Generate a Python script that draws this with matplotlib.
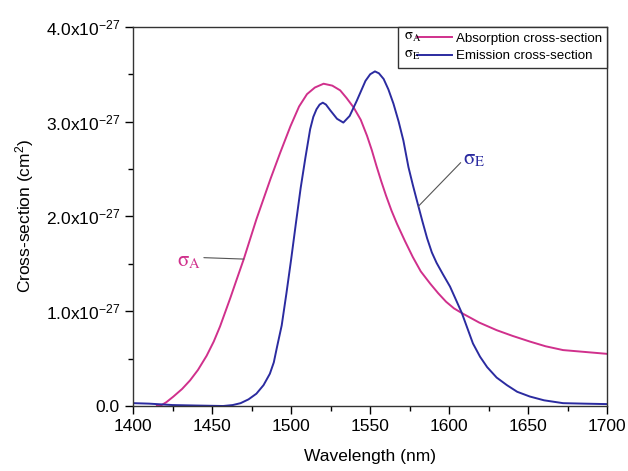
import numpy as np
import matplotlib
matplotlib.use("Agg")
import matplotlib.pyplot as plt
from matplotlib.ticker import MultipleLocator, FuncFormatter
from matplotlib.legend_handler import HandlerLine2D
from matplotlib.text import Text

# absorption cross-section, values in units of 1e-27 cm^2
abs_wl = [1415, 1417, 1421, 1425.5, 1431, 1436, 1441, 1446.5, 1451, 1455,
          1461.5, 1465, 1470, 1478, 1487, 1493, 1499.5, 1505, 1510, 1515,
          1520.5, 1526, 1531, 1535, 1539.5, 1544, 1548, 1551, 1554, 1557,
          1560, 1563.5, 1567, 1572, 1577, 1582, 1588, 1593, 1598, 1603,
          1608, 1619, 1630, 1640, 1651, 1661, 1672, 1686, 1700]
abs_val = [0.0, 0.0, 0.04, 0.10, 0.18, 0.27, 0.38, 0.53, 0.68, 0.84,
           1.14, 1.31, 1.55, 1.97, 2.40, 2.67, 2.95, 3.16, 3.29, 3.36,
           3.40, 3.38, 3.33, 3.25, 3.15, 3.02, 2.85, 2.70, 2.53, 2.37,
           2.22, 2.06, 1.92, 1.74, 1.57, 1.42, 1.29, 1.19, 1.10, 1.03,
           0.98, 0.88, 0.80, 0.74, 0.68, 0.63, 0.59, 0.57, 0.55]

# emission cross-section
emi_wl = [1400, 1410, 1425, 1440, 1457, 1463, 1468, 1473, 1478, 1482.5,
          1486.5, 1489, 1491, 1494, 1497, 1500, 1503, 1506, 1509, 1512,
          1514, 1516, 1518, 1520, 1522, 1524.7, 1529, 1533, 1537, 1541.5,
          1547, 1550, 1553, 1555.5, 1558.5, 1561.5, 1564.7, 1568, 1571,
          1574.2, 1577, 1579.5, 1583, 1586, 1589, 1592, 1596, 1600.5, 1604,
          1608, 1611.5, 1615, 1619.5, 1624, 1630, 1636.5, 1643, 1651, 1660,
          1672, 1685, 1700]
emi_val = [0.03, 0.025, 0.01, 0.005, 0.0, 0.01, 0.03, 0.07, 0.13, 0.22,
           0.34, 0.46, 0.62, 0.85, 1.19, 1.55, 1.93, 2.30, 2.62, 2.92,
           3.05, 3.13, 3.18, 3.20, 3.18, 3.12, 3.03, 2.99, 3.06, 3.22,
           3.43, 3.50, 3.53, 3.51, 3.45, 3.34, 3.19, 3.00, 2.80,
           2.52, 2.33, 2.17, 1.95, 1.77, 1.62, 1.51, 1.39, 1.26, 1.13,
           0.98, 0.82, 0.66, 0.52, 0.41, 0.30, 0.22, 0.15, 0.10, 0.06,
           0.03, 0.025, 0.02]

x_ticks = [1400, 1450, 1500, 1550, 1600, 1650, 1700]
y_ticks = [0.0, 1.0, 2.0, 3.0, 4.0]

MAGENTA = "#d0308c"
BLUE = "#2b2ba0"

plt.rcParams["font.family"] = ["Liberation Sans", "DejaVu Sans"]
plt.rcParams["mathtext.fontset"] = "custom"
plt.rcParams["mathtext.rm"] = "Liberation Sans"
plt.rcParams["mathtext.it"] = "Liberation Sans:italic"
plt.rcParams["mathtext.bf"] = "Liberation Sans:bold"


class SigmaHandler(HandlerLine2D):
    """legend entry drawn as 'sigma_X ----' like the original"""

    def __init__(self, sub, **kw):
        super().__init__(**kw)
        self.sub = sub

    def create_artists(self, legend, orig_handle, xdescent, ydescent,
                       width, height, fontsize, trans):
        gap = width * 0.27
        artists = super().create_artists(legend, orig_handle, xdescent - gap,
                                         ydescent, width - gap, height,
                                         fontsize, trans)
        t = Text(-xdescent, height / 2 - ydescent,
                 r"$\mathrm{\sigma}_{\mathrm{%s}}$" % self.sub,
                 fontsize=fontsize * 1.1, va="center", ha="left", color="black")
        t.set_math_fontfamily("stix")
        t.set_transform(trans)
        return artists + [t]


def ytick_fmt(v, pos):
    if abs(v) < 1e-9:
        return "0.0"
    return r"%.1fx10$^{-27}$" % v


fig = plt.figure(figsize=(6.28, 4.71), dpi=100)
ax = fig.add_axes([0.212, 0.138, 0.755, 0.805])

la, = ax.plot(abs_wl, abs_val, color=MAGENTA, lw=1.4, solid_joinstyle="round")
le, = ax.plot(emi_wl, emi_val, color=BLUE, lw=1.4, solid_joinstyle="round")

ax.set_xlim(1400, 1700)
ax.set_ylim(0, 4.0)
ax.set_xticks(x_ticks)
ax.set_yticks(y_ticks)
ax.xaxis.set_minor_locator(MultipleLocator(25))
ax.yaxis.set_minor_locator(MultipleLocator(0.5))
ax.yaxis.set_major_formatter(FuncFormatter(ytick_fmt))
ax.tick_params(which="major", direction="out", length=6, width=1,
               labelsize=12.5, top=False, right=False)
ax.tick_params(which="minor", direction="out", length=3.5, width=1,
               top=False, right=False)
for s in ax.spines.values():
    s.set_linewidth(1.0)
    s.set_color("#333333")

ax.set_xlabel("Wavelength (nm)", fontsize=12.5, labelpad=11)
ax.set_ylabel(r"Cross-section (cm$^{2}$)", fontsize=12.5, labelpad=7)

leg = ax.legend([la, le], ["Absorption cross-section", "Emission cross-section"],
                handler_map={la: SigmaHandler("A"), le: SigmaHandler("E")},
                loc="upper right", borderaxespad=0, fontsize=9.6,
                handlelength=3.6, handletextpad=0.3, borderpad=0.4,
                labelspacing=0.4, fancybox=False, framealpha=1)
leg.get_frame().set_edgecolor("#333333")
leg.get_frame().set_linewidth(1.0)

# curve labels with leader lines
pa = (1470, np.interp(1470, abs_wl, abs_val))
ta = ax.annotate(r"$\mathrm{\sigma}_{\mathrm{A}}$", xy=pa, xytext=(1443, 1.52),
                 color=MAGENTA, fontsize=15, ha="right", va="center",
                 arrowprops=dict(arrowstyle="-", color="#555555", lw=0.8,
                                 shrinkA=0, shrinkB=0, relpos=(0.55, 0.75)))
ta.set_math_fontfamily("stix")

pe = (1580.5, np.interp(1580.5, emi_wl, emi_val))
te = ax.annotate(r"$\mathrm{\sigma}_{\mathrm{E}}$", xy=pe, xytext=(1609, 2.6),
                 color=BLUE, fontsize=15, ha="left", va="center",
                 arrowprops=dict(arrowstyle="-", color="#555555", lw=0.8,
                                 shrinkA=0, shrinkB=0, relpos=(0.05, 0.55)))
te.set_math_fontfamily("stix")

fig.savefig("out.png", dpi=100)
